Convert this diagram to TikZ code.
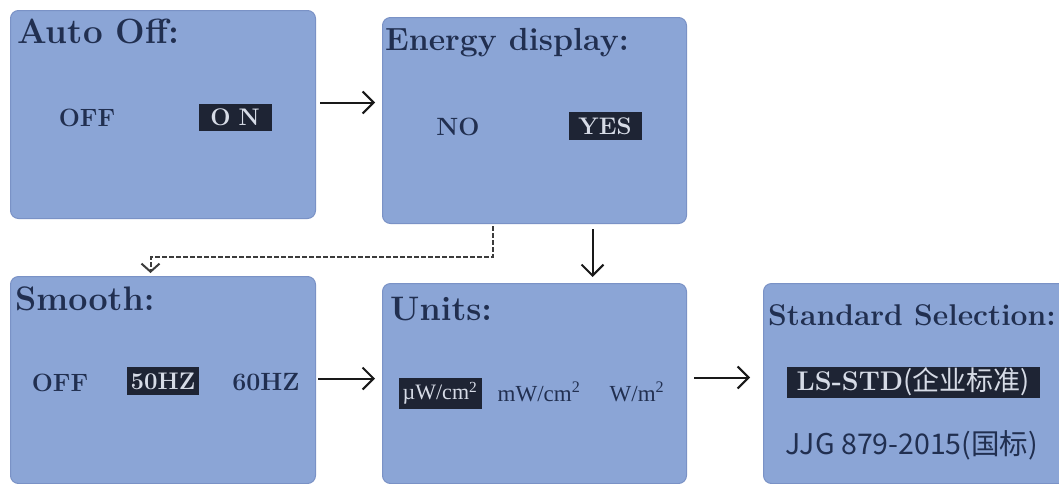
\documentclass[tikz,border=0pt]{standalone}
\usepackage{fontspec}
\newfontfamily\cjk{Noto Sans CJK SC}
\newfontfamily\unitfont{Liberation Serif}
\usetikzlibrary{arrows.meta}
\definecolor{panelfill}{RGB}{139,165,214}
\definecolor{paneledge}{RGB}{122,146,198}
\definecolor{ink}{RGB}{33,47,80}
\definecolor{hlfill}{RGB}{30,36,52}
\definecolor{hltext}{RGB}{214,219,230}
\definecolor{arrowink}{RGB}{25,25,25}
\tikzset{
  panel/.style={draw=paneledge, line width=1pt, fill=panelfill, rounded corners=8pt, anchor=north west, inner sep=0pt},
  title/.style={anchor=base west, text=ink, font=\fontsize{34}{34}\selectfont\bfseries, inner sep=0pt},
  opt/.style={text=ink, font=\fontsize{25}{25}\selectfont\bfseries, inner sep=0pt},
  hl/.style={fill=hlfill, text=hltext, font=\fontsize{24}{24}\selectfont\bfseries, inner sep=0pt},
  unit/.style={text=ink, font=\unitfont\fontsize{23}{23}\selectfont, inner sep=0pt},
  arr/.style={draw=arrowink, line width=2pt, -{Straight Barb[length=11pt,width=22pt]}},
  dasharr/.style={draw=arrowink!85, line width=2pt, dash pattern=on 5pt off 2pt, -{Straight Barb[length=8pt,width=18pt]}}
}
\begin{document}
\begin{tikzpicture}[x=1pt,y=-1pt]
\clip (0,0) rectangle (1059,483);
\fill[white] (0,0) rectangle (1059,483);
% panels
\node[panel, minimum width=305pt, minimum height=208pt] (b1) at (10,10) {};
\node[panel, minimum width=304pt, minimum height=206pt] (b2) at (382,17) {};
\node[panel, minimum width=305pt, minimum height=207pt] (b3) at (10,276) {};
\node[panel, minimum width=304pt, minimum height=200pt] (b4) at (382,283) {};
\node[panel, minimum width=310pt, minimum height=200pt] (b5) at (763,283) {};
% titles
\node[title, font=\fontsize{35}{35}\selectfont\bfseries] (t1) at (17,43) {Auto Off:};
\node[title, font=\fontsize{32}{32}\selectfont\bfseries] (t2) at (385,50) {Energy display:};
\node[title] (t3) at (15,310) {Smooth:};
\node[title] (t4) at (390,320) {Units:};
\node[title, font=\fontsize{30}{30}\selectfont\bfseries] (t5) at (768,325) {Standard Selection:};
% options
\node[opt] (o1a) at (87,118) {OFF};
\node[hl, minimum width=73pt, minimum height=27pt] (o1b) at (235,117) {O\,\,N};
\node[opt] (o2a) at (458,127) {NO};
\node[hl, minimum width=73pt, minimum height=28pt] (o2b) at (605,126) {YES};
\node[opt] (o3a) at (60,383) {OFF};
\node[hl, minimum width=72pt, minimum height=28pt] (o3b) at (163,381) {50HZ};
\node[opt] (o3c) at (266,382) {60HZ};
\node[hl, font=\unitfont\fontsize{22}{22}\selectfont, minimum width=83pt, minimum height=31pt] (o4a) at (440,393) {µW/cm\textsuperscript{2}};
\node[unit] (o4b) at (539,392) {mW/cm\textsuperscript{2}};
\node[unit] (o4c) at (637,392) {W/m\textsuperscript{2}};
\node[hl, font=\fontsize{27}{27}\selectfont\bfseries, minimum width=253pt, minimum height=31pt] (o5a) at (913,382) {LS-STD{\cjk\mdseries (企业标准)}};
\node[text=ink, font=\cjk\fontsize{28.5}{28.5}\selectfont, inner sep=0pt] (o5b) at (912,445) {JJG 879-2015(国标)};
% connectors
\draw[arr] ([xshift=4pt,yshift=12pt]b1.east) -- ([xshift=-7pt,yshift=18pt]b2.west);
\draw[arr] ([xshift=58pt,yshift=-5pt]b2.south) -- ([xshift=58pt,yshift=6pt]b4.north);
\draw[dasharr] ([xshift=-42pt,yshift=-2pt]b2.south) -- ++(0,31) -| ([xshift=-12.5pt,yshift=3pt]b3.north);
\draw[arr] ([xshift=2pt,yshift=1.5pt]b3.east) -- ([xshift=-7pt,yshift=5pt]b4.west);
\draw[arr] ([xshift=7pt,yshift=6pt]b4.east) -- ([xshift=-13pt,yshift=6pt]b5.west);
\end{tikzpicture}
\end{document}
